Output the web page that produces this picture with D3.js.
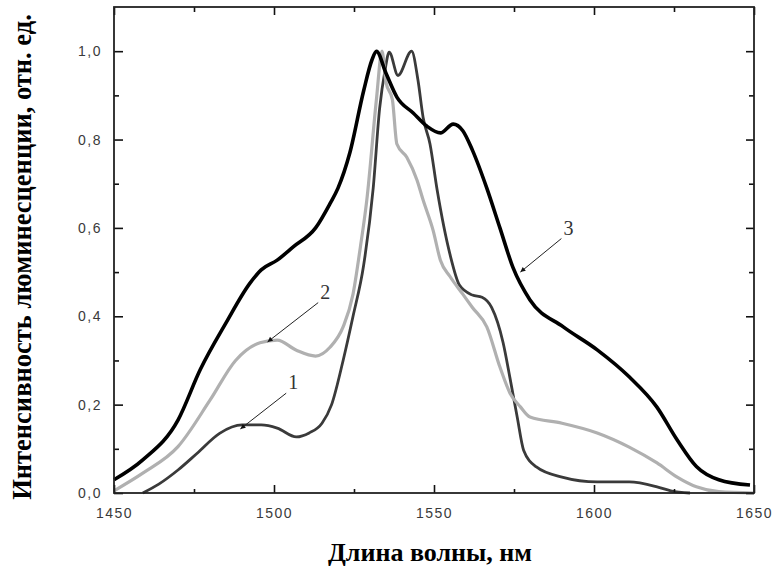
<!DOCTYPE html>
<html>
<head>
<meta charset="utf-8">
<script src="https://cdn.jsdelivr.net/npm/d3@7/dist/d3.min.js"></script>
<style>
  body { margin: 0; background: #fff; }
</style>
</head>
<body>
<div id="graph"></div>
<script>
// curve 1 (dark gray)
const nm1 = [1459, 1464, 1470, 1476, 1483, 1490, 1496, 1501, 1507, 1511, 1515, 1518, 1521.6, 1524.7, 1528, 1531, 1533, 1534.7, 1536, 1538.75, 1543, 1545, 1546.6, 1548.75, 1551, 1555, 1558, 1562, 1565, 1568, 1571.6, 1573.75, 1576, 1578, 1582, 1590, 1601, 1611, 1619.7, 1624, 1630]
const val1 = [0, 0.02, 0.052, 0.09, 0.135, 0.154, 0.154, 0.147, 0.127, 0.136, 0.158, 0.2, 0.3, 0.4, 0.515, 0.69, 0.87, 0.957, 0.998, 0.945, 1.0, 0.934, 0.85, 0.79, 0.685, 0.54, 0.47, 0.448, 0.443, 0.42, 0.34, 0.26, 0.172, 0.097, 0.059, 0.036, 0.025, 0.025, 0.014, 0.005, 0]

// curve 2 (light gray)
const nm2 = [1450, 1459, 1470, 1480, 1488, 1495.6, 1501, 1507, 1513, 1517.5, 1521.6, 1524.7, 1527, 1529, 1532, 1533.75, 1535, 1537, 1538.4, 1541.5, 1544.7, 1546.6, 1549.7, 1552, 1555, 1559, 1562, 1566.5, 1570.6, 1573.75, 1577, 1580, 1590, 1601, 1611, 1619.7, 1626, 1632, 1639, 1650]
const val2 = [0.005, 0.045, 0.105, 0.21, 0.3, 0.34, 0.346, 0.323, 0.31, 0.33, 0.376, 0.45, 0.557, 0.663, 0.89, 1.0, 0.93, 0.89, 0.79, 0.76, 0.708, 0.663, 0.595, 0.527, 0.49, 0.45, 0.42, 0.376, 0.285, 0.226, 0.195, 0.172, 0.158, 0.136, 0.104, 0.068, 0.036, 0.014, 0.003, 0]

// curve 3 (black)
const nm3 = [1450, 1459, 1470, 1477, 1485, 1492.5, 1496, 1501, 1506, 1513, 1517.5, 1520, 1523.7, 1528, 1530.6, 1532, 1535, 1538.4, 1543.5, 1547.8, 1552, 1556, 1559, 1562, 1566.5, 1570.6, 1574.7, 1580, 1590.4, 1601, 1611, 1619.6, 1626, 1632, 1639, 1648.75]
const val3 = [0.03, 0.075, 0.165, 0.28, 0.385, 0.475, 0.505, 0.527, 0.557, 0.6, 0.655, 0.69, 0.77, 0.91, 0.98, 1.0, 0.95, 0.896, 0.86, 0.83, 0.815, 0.835, 0.82, 0.776, 0.69, 0.6, 0.51, 0.437, 0.376, 0.324, 0.263, 0.195, 0.12, 0.06, 0.03, 0.018]

const xTicks = [1450, 1500, 1550, 1600, 1650]
const xMinor = [1475, 1525, 1575, 1625]
const yTicks = [0, 0.2, 0.4, 0.6, 0.8, 1.0]
const yMinor = [0.1, 0.3, 0.5, 0.7, 0.9]

// labels: text, label position, arrow tip
const labelText = ["1", "2", "3"]
const labelAt = [[1506, 0.235], [1516, 0.44], [1592, 0.585]]
const arrowTip = [[1489.5, 0.145], [1498, 0.342], [1577, 0.5]]

const curves = [
    { nm: nm1, val: val1, color: "#3a3a3a", width: 2.8 },
    { nm: nm2, val: val2, color: "#b0b0b0", width: 3.2 },
    { nm: nm3, val: val3, color: "#000000", width: 3.6 },
]

let dimensions = {
    width: 779,
    height: 572,
    margin: { top: 7, right: 25, bottom: 79, left: 114 },
}
dimensions.boundedWidth = dimensions.width - dimensions.margin.left - dimensions.margin.right
dimensions.boundedHeight = dimensions.height - dimensions.margin.top - dimensions.margin.bottom

const wrapper = d3.select("#graph")
    .append("svg")
    .attr("width", dimensions.width)
    .attr("height", dimensions.height)

const bounds = wrapper.append("g")
    .attr("transform", `translate(${dimensions.margin.left},${dimensions.margin.top})`)

// scales
const xScale = d3.scaleLinear()
    .domain([1450, 1650])
    .range([0, dimensions.boundedWidth])
const yScale = d3.scaleLinear()
    .domain([0, 1.1])
    .range([dimensions.boundedHeight, 0])

// curves
const lineGenerator = d3.line()
    .x(d => xScale(d[0]))
    .y(d => yScale(d[1]))
    .curve(d3.curveMonotoneX)

curves.forEach(c => {
    bounds.append("path")
        .attr("d", lineGenerator(c.nm.map((n, i) => [n, c.val[i]])))
        .attr("fill", "none")
        .attr("stroke", c.color)
        .attr("stroke-width", c.width)
        .attr("stroke-linejoin", "round")
})

// axes
const fmt = d => d3.format(".1f")(d).replace(".", ",")
const tickFont = g => g.selectAll("text")
    .attr("font-family", "Liberation Sans, Arial, sans-serif")
    .attr("font-size", 14)
    .attr("letter-spacing", 1.5)
    .attr("fill", "#3a3a3a")

const yAxis = bounds.append("g")
    .call(d3.axisLeft(yScale).tickValues(yTicks).tickFormat(fmt).tickSize(-9).tickSizeOuter(0).tickPadding(12))
    .call(tickFont)
bounds.append("g")
    .call(d3.axisLeft(yScale).tickValues(yMinor).tickFormat("").tickSize(-5).tickSizeOuter(0))

const xAxis = bounds.append("g")
    .attr("transform", `translate(0,${dimensions.boundedHeight})`)
    .call(d3.axisBottom(xScale).tickValues(xTicks).tickFormat(d3.format("d")).tickSize(-8).tickSizeOuter(0).tickPadding(15))
    .call(tickFont)
bounds.append("g")
    .attr("transform", `translate(0,${dimensions.boundedHeight})`)
    .call(d3.axisBottom(xScale).tickValues(xMinor).tickFormat("").tickSize(-4).tickSizeOuter(0))

bounds.append("g")
    .call(d3.axisTop(xScale).tickValues(xTicks).tickFormat("").tickSize(-8).tickSizeOuter(0))
bounds.append("g")
    .call(d3.axisTop(xScale).tickValues(xMinor).tickFormat("").tickSize(-5).tickSizeOuter(0))
bounds.append("g")
    .attr("transform", `translate(${dimensions.boundedWidth},0)`)
    .call(d3.axisRight(yScale).tickValues(yTicks).tickFormat("").tickSize(-8).tickSizeOuter(0))
bounds.append("g")
    .attr("transform", `translate(${dimensions.boundedWidth},0)`)
    .call(d3.axisRight(yScale).tickValues(yMinor).tickFormat("").tickSize(-5).tickSizeOuter(0))

bounds.selectAll(".tick line").attr("stroke", "#111").attr("stroke-width", 1.6)
bounds.selectAll(".domain").remove()

// frame
bounds.append("rect")
    .attr("width", dimensions.boundedWidth)
    .attr("height", dimensions.boundedHeight)
    .attr("fill", "none")
    .attr("stroke", "#222")
    .attr("stroke-width", 1.8)

// curve labels with arrows
wrapper.append("defs").append("marker")
    .attr("id", "arrow")
    .attr("viewBox", "0 0 10 10")
    .attr("refX", 10)
    .attr("refY", 5)
    .attr("markerWidth", 9)
    .attr("markerHeight", 5)
    .attr("markerUnits", "userSpaceOnUse")
    .attr("orient", "auto")
    .append("path")
    .attr("d", "M0,0L10,5L0,10Z")
    .attr("fill", "#111")

labelText.forEach((t, i) => {
    const lx = xScale(labelAt[i][0])
    const ly = yScale(labelAt[i][1])
    bounds.append("line")
        .attr("x1", lx - 7)
        .attr("y1", ly + 4)
        .attr("x2", xScale(arrowTip[i][0]))
        .attr("y2", yScale(arrowTip[i][1]))
        .attr("stroke", "#222")
        .attr("stroke-width", 1)
        .attr("marker-end", "url(#arrow)")
    bounds.append("text")
        .attr("x", lx)
        .attr("y", ly)
        .attr("font-family", "Liberation Serif, Times New Roman, serif")
        .attr("font-size", 20)
        .attr("fill", "#333")
        .attr("text-anchor", "middle")
        .text(t)
})

// titles
wrapper.append("text")
    .attr("x", 430)
    .attr("y", 561)
    .attr("text-anchor", "middle")
    .attr("font-family", "Liberation Serif, Times New Roman, serif")
    .attr("font-weight", "bold")
    .attr("font-size", 26)
    .attr("fill", "#000")
    .text("Длина волны, нм")

wrapper.append("text")
    .attr("transform", "translate(31,257) rotate(-90)")
    .attr("text-anchor", "middle")
    .attr("font-family", "Liberation Serif, Times New Roman, serif")
    .attr("font-weight", "bold")
    .attr("font-size", 26.5)
    .attr("fill", "#000")
    .text("Интенсивность люминесценции, отн. ед.")
</script>
</body>
</html>
